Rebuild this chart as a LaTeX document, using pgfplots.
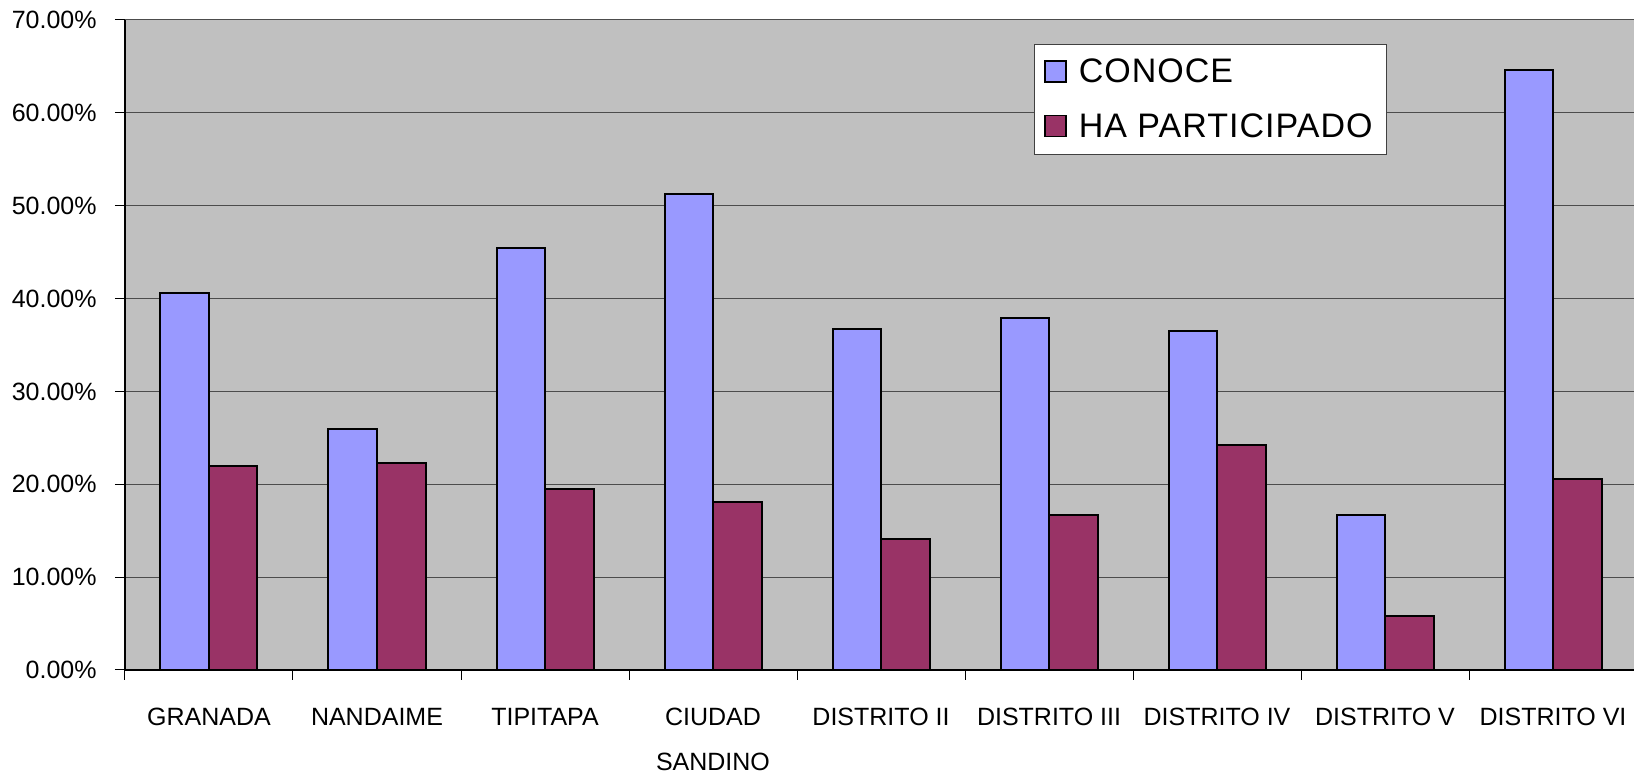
\documentclass[border=0pt]{standalone}
\usepackage{fontspec}
\setmainfont{Liberation Sans}
\usepackage{pgfplots}
\pgfplotsset{compat=1.18}
\definecolor{conoce}{RGB}{153,153,255}
\definecolor{partic}{RGB}{153,51,102}
\definecolor{plotbg}{RGB}{192,192,192}
\pgfplotsset{boxlegend/.style={legend image code/.code={\draw[##1, line width=0.8pt] (0pt,-5pt) rectangle (10.5pt,5.5pt);}}}

\begin{document}
\begin{tikzpicture}
% page = 1634 x 775 px at 0.5pt per px
\useasboundingbox (-62.5pt,-52.5pt) rectangle (754.5pt,335pt);
\begin{axis}[
  scale only axis, width=756pt, height=325pt,
  at={(0,0)}, anchor=south west,
  xmin=-0.5, xmax=8.5, ymin=0, ymax=70,
  axis background/.style={fill=plotbg},
  axis x line*=bottom, axis y line*=left,
  axis line style={black, line width=0.6pt, -},
  ybar=0pt, bar width=24.25pt,
  tick align=outside, major tick length=5pt, minor tick length=5pt,
  ytick={0,10,...,70},
  yticklabels={0.00\%,10.00\%,20.00\%,30.00\%,40.00\%,50.00\%,60.00\%,70.00\%},
  ymajorgrids, grid style={black!70, line width=0.5pt},
  xtick={0,...,8},
  xticklabels={GRANADA,NANDAIME,TIPITAPA,{CIUDAD\\SANDINO},DISTRITO II,DISTRITO III,DISTRITO IV,DISTRITO V,DISTRITO VI},
  minor xtick={-0.5,0.5,...,8.5},
  major x tick style={draw=none},
  minor x tick style={black, line width=0.5pt},
  y tick style={black, line width=0.5pt},
  tick label style={font=\fontsize{12.5}{22.5}\selectfont},
  xticklabel style={align=center, anchor=north, inner sep=0pt, yshift=-14pt},
  yticklabel style={anchor=east, inner sep=0pt, xshift=-9pt},
  legend style={at={(rel axis cs:0.601,0.963)}, anchor=north west, draw=black!75, line width=0.5pt,
    fill=white, font=\fontsize{17}{20}\selectfont\addfontfeature{LetterSpace=3}, row sep=10pt,
    inner xsep=5pt, inner ysep=5pt,
    /tikz/every odd column/.append style={column sep=4pt}},
  legend cell align=left,
]
\addplot[fill=conoce, draw=black, line width=1pt, boxlegend]
  coordinates {(0,40.6) (1,25.9) (2,45.4) (3,51.3) (4,36.7) (5,37.9) (6,36.5) (7,16.7) (8,64.6)};
\addplot[fill=partic, draw=black, line width=1pt, boxlegend]
  coordinates {(0,22.0) (1,22.3) (2,19.5) (3,18.1) (4,14.1) (5,16.7) (6,24.2) (7,5.8) (8,20.6)};
\legend{CONOCE,HA PARTICIPADO}
\end{axis}
\end{tikzpicture}
\end{document}
